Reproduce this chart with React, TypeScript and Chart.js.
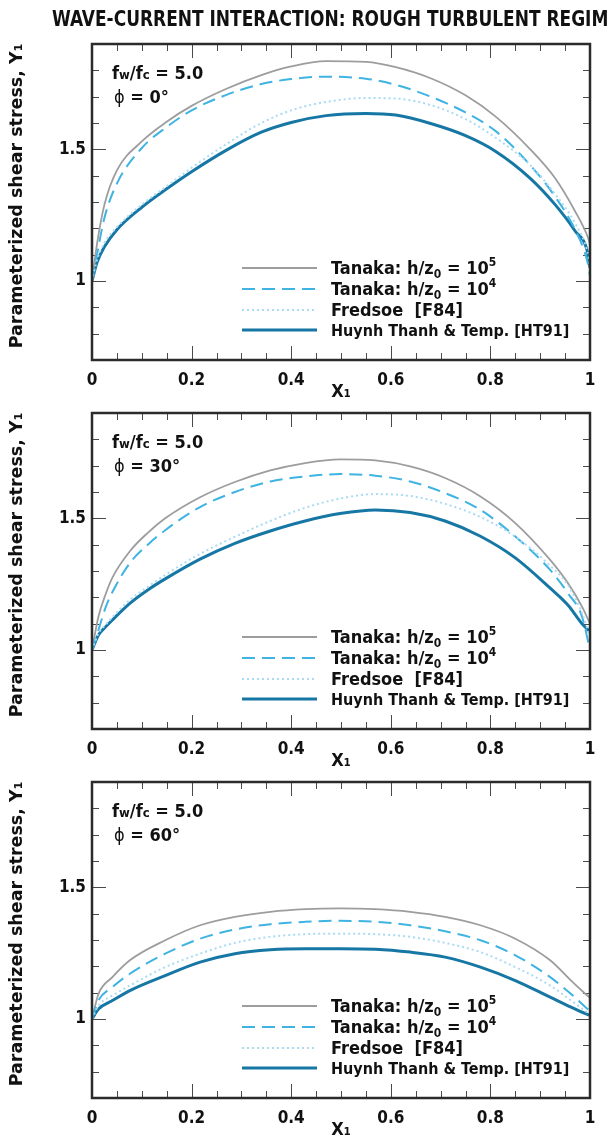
import React, { useEffect, useRef } from 'react';
import { Chart, registerables } from 'chart.js';

Chart.register(...registerables);

// ---------- text ----------
const MAIN_TITLE = 'WAVE-CURRENT INTERACTION: ROUGH TURBULENT REGIME';
const Y_TITLE = 'Parameterized shear stress, Y\u2081';
const X_TITLE = 'X\u2081';
const FW_FC = '5.0';
const PHI_DEG = [0, 30, 60];
const SERIES_LABELS = [
  'Tanaka: h/z0 = 10^5',
  'Tanaka: h/z0 = 10^4',
  'Fredsoe  [F84]',
  'Huynh Thanh & Temp. [HT91]',
];

// ---------- ticks ----------
const X_TICKS = [0, 0.2, 0.4, 0.6, 0.8, 1];
const Y_TICKS = [1, 1.5];
const Y_MIN = 0.7;
const Y_MAX = 1.9;

// ---------- data: phi = 0 ----------
const p0X = [0, 0.01, 0.025, 0.05, 0.1, 0.15, 0.2, 0.27, 0.34, 0.4, 0.47, 0.55, 0.61, 0.68, 0.75, 0.81, 0.88, 0.93, 0.97, 0.995, 1];
const p0Tanaka5 = [1.0, 1.14, 1.29, 1.42, 1.53, 1.605, 1.665, 1.73, 1.782, 1.815, 1.835, 1.832, 1.812, 1.77, 1.705, 1.625, 1.5, 1.39, 1.265, 1.17, 1.14];
const p0Tanaka4 = [1.0, 1.1, 1.24, 1.37, 1.505, 1.585, 1.648, 1.707, 1.748, 1.767, 1.776, 1.768, 1.745, 1.7, 1.64, 1.57, 1.44, 1.32, 1.195, 1.072, 1.02];
const p0Fredsoe = [1.0, 1.08, 1.145, 1.205, 1.29, 1.36, 1.43, 1.52, 1.6, 1.648, 1.68, 1.695, 1.693, 1.668, 1.615, 1.545, 1.44, 1.33, 1.22, 1.11, 1.06];
const p0HT91 = [1.0, 1.07, 1.13, 1.195, 1.28, 1.35, 1.415, 1.497, 1.565, 1.602, 1.628, 1.636, 1.63, 1.598, 1.552, 1.493, 1.39, 1.29, 1.19, 1.11, 1.05];

// ---------- data: phi = 30 ----------
const p30X = [0, 0.013, 0.027, 0.041, 0.076, 0.112, 0.147, 0.217, 0.287, 0.358, 0.428, 0.498, 0.569, 0.639, 0.709, 0.78, 0.85, 0.92, 0.956, 0.984, 1];
const p30Tanaka5 = [1.0, 1.127, 1.21, 1.275, 1.375, 1.445, 1.5, 1.58, 1.638, 1.682, 1.71, 1.724, 1.72, 1.697, 1.653, 1.583, 1.482, 1.342, 1.253, 1.165, 1.1];
const p30Tanaka4 = [1.0, 1.076, 1.16, 1.22, 1.33, 1.4, 1.455, 1.543, 1.6, 1.64, 1.659, 1.668, 1.662, 1.64, 1.596, 1.532, 1.431, 1.304, 1.215, 1.127, 1.0];
const p30Fredsoe = [1.0, 1.063, 1.095, 1.125, 1.19, 1.24, 1.285, 1.365, 1.43, 1.49, 1.54, 1.575, 1.592, 1.585, 1.555, 1.505, 1.43, 1.32, 1.245, 1.14, 1.05];
const p30HT91 = [1.0, 1.057, 1.087, 1.114, 1.177, 1.228, 1.27, 1.345, 1.405, 1.452, 1.49, 1.518, 1.532, 1.522, 1.49, 1.432, 1.35, 1.235, 1.17, 1.1, 1.07];

// ---------- data: phi = 60 ----------
const p60X = [0, 0.013, 0.041, 0.076, 0.147, 0.217, 0.287, 0.358, 0.428, 0.498, 0.569, 0.639, 0.709, 0.78, 0.85, 0.92, 0.962, 0.991, 1];
const p60Tanaka5 = [1.0, 1.095, 1.159, 1.223, 1.299, 1.356, 1.388, 1.407, 1.417, 1.42, 1.417, 1.407, 1.388, 1.356, 1.305, 1.223, 1.146, 1.095, 1.08];
const p60Tanaka4 = [1.0, 1.07, 1.121, 1.172, 1.248, 1.305, 1.34, 1.36, 1.369, 1.373, 1.369, 1.356, 1.333, 1.299, 1.242, 1.159, 1.095, 1.045, 1.03];
const p60Fredsoe = [1.0, 1.051, 1.089, 1.127, 1.197, 1.248, 1.289, 1.312, 1.322, 1.324, 1.322, 1.312, 1.289, 1.254, 1.197, 1.127, 1.07, 1.03, 1.019];
const p60HT91 = [1.0, 1.038, 1.07, 1.108, 1.165, 1.216, 1.248, 1.263, 1.267, 1.267, 1.265, 1.254, 1.235, 1.197, 1.146, 1.083, 1.045, 1.02, 1.013];

const PANELS = [
  { phi: PHI_DEG[0], x: p0X, series: [p0Tanaka5, p0Tanaka4, p0Fredsoe, p0HT91] },
  { phi: PHI_DEG[1], x: p30X, series: [p30Tanaka5, p30Tanaka4, p30Fredsoe, p30HT91] },
  { phi: PHI_DEG[2], x: p60X, series: [p60Tanaka5, p60Tanaka4, p60Fredsoe, p60HT91] },
];

// ---------- styles ----------
const STYLES = [
  { color: '#9d9d9f', width: 1.8, dash: [] as number[], order: 2 },
  { color: '#3fb3e2', width: 2, dash: [13, 7], order: 1 },
  { color: '#a9dbf3', width: 2, dash: [2, 3], order: 0 },
  { color: '#1677a5', width: 3, dash: [] as number[], order: 3 },
];

const FF = '"DejaVu Sans Condensed", "DejaVu Sans", sans-serif';
const FF_WIDE = '"DejaVu Sans", sans-serif';
const font = (size: number, weight = 'bold') => `${weight} ${size}px ${FF}`;

const CANVAS_W = 609;
const CANVAS_H = 398;
const PANEL_STEP = 369;
const TITLE_WIDTH = 568;

type Seg = { t: string; size: number; dy?: number; weight?: string };

function drawRich(ctx: CanvasRenderingContext2D, segs: Seg[], x: number, y: number) {
  let cx = x;
  for (const s of segs) {
    ctx.font = font(s.size, s.weight || 'bold');
    ctx.fillText(s.t, cx, y + (s.dy || 0));
    cx += ctx.measureText(s.t).width;
  }
  return cx;
}

const LEGEND_SEGS: Seg[][] = [
  [{ t: 'Tanaka: h/z', size: 18 }, { t: '0', size: 12, dy: 4 }, { t: ' = 10', size: 18 }, { t: '5', size: 12, dy: -8 }],
  [{ t: 'Tanaka: h/z', size: 18 }, { t: '0', size: 12, dy: 4 }, { t: ' = 10', size: 18 }, { t: '4', size: 12, dy: -8 }],
  [{ t: 'Fredsoe  [F84]', size: 18 }],
  [{ t: 'Huynh Thanh & Temp. [HT91]', size: 16 }],
];
const LEGEND_ROWS = [224, 245, 266, 286];

function makeDecor(panelIndex: number, phi: number) {
  return {
    id: 'decor' + panelIndex,
    beforeDatasetsDraw(chart: any) {
      const { ctx, chartArea: a, scales } = chart;
      const x = scales.x;
      const y = scales.y;
      ctx.save();
      ctx.strokeStyle = '#4a4a4a';
      ctx.lineWidth = 1;
      ctx.beginPath();
      for (let i = 1; i < 20; i++) {
        const px = Math.round(x.getPixelForValue(i * 0.05)) + 0.5;
        const L = i % 4 === 0 ? 14 : 7;
        ctx.moveTo(px, a.top);
        ctx.lineTo(px, a.top + L);
        ctx.moveTo(px, a.bottom);
        ctx.lineTo(px, a.bottom - L);
      }
      for (let i = 1; i <= 11; i++) {
        const v = Y_MIN + i * 0.1;
        const py = Math.round(y.getPixelForValue(v)) + 0.5;
        const major = Math.abs(v - 1) < 1e-6 || Math.abs(v - 1.5) < 1e-6;
        const L = major ? 14 : 7;
        ctx.moveTo(a.left, py);
        ctx.lineTo(a.left + L, py);
        ctx.moveTo(a.right, py);
        ctx.lineTo(a.right - L, py);
      }
      ctx.stroke();
      ctx.restore();
    },
    afterDatasetsDraw(chart: any) {
      const { ctx, chartArea: a } = chart;
      ctx.save();
      // frame
      ctx.strokeStyle = '#2b2b2b';
      ctx.lineWidth = 2.5;
      ctx.strokeRect(a.left, a.top, a.right - a.left, a.bottom - a.top);

      ctx.fillStyle = '#111';
      ctx.textAlign = 'left';
      ctx.textBaseline = 'alphabetic';

      // annotation
      const ax = a.left + 20;
      drawRich(ctx, [
        { t: 'f', size: 18 }, { t: 'w', size: 13 }, { t: '/f', size: 18 }, { t: 'c', size: 13 }, { t: ' = ' + FW_FC, size: 18 },
      ], ax, a.top + 28 + 6.5);
      drawRich(ctx, [
        { t: '\u03D5', size: 18, weight: 'normal' }, { t: ' = ' + phi + '\u00B0', size: 18 },
      ], ax + 2, a.top + 52 + 6.5);

      // legend
      const lx0 = a.left + 150;
      const lx1 = a.left + 225;
      const tx = a.left + 239;
      chart.data.datasets.forEach((ds: any, i: number) => {
        const ry = a.top + LEGEND_ROWS[i];
        ctx.save();
        ctx.strokeStyle = ds.borderColor;
        ctx.lineWidth = ds.borderWidth;
        ctx.setLineDash(ds.borderDash || []);
        ctx.beginPath();
        ctx.moveTo(lx0, ry);
        ctx.lineTo(lx1, ry);
        ctx.stroke();
        ctx.restore();
        const size = LEGEND_SEGS[i][0].size;
        drawRich(ctx, LEGEND_SEGS[i], tx, ry + size * 0.36);
      });

      // axis titles
      ctx.font = font(18);
      ctx.textAlign = 'center';
      ctx.textBaseline = 'middle';
      ctx.fillText(X_TITLE, (a.left + a.right) / 2, a.bottom + 32);

      ctx.save();
      ctx.translate(17.5, (a.top + a.bottom) / 2 - 6);
      ctx.rotate(-Math.PI / 2);
      ctx.font = `bold 17.5px ${FF_WIDE}`;
      ctx.fillText(Y_TITLE, 0, 0);
      ctx.restore();

      if (panelIndex === 0) {
        ctx.save();
        ctx.font = font(20.5);
        ctx.textAlign = 'left';
        ctx.textBaseline = 'middle';
        const w = ctx.measureText(MAIN_TITLE).width;
        ctx.translate(52, 21);
        ctx.scale(TITLE_WIDTH / w, 1);
        ctx.fillText(MAIN_TITLE, 0, 0);
        ctx.restore();
      }
      ctx.restore();
    },
  };
}

function Panel({ index }: { index: number }) {
  const ref = useRef<HTMLCanvasElement | null>(null);
  useEffect(() => {
    const canvas = ref.current;
    if (!canvas) return;
    const p = PANELS[index];
    const chart = new Chart(canvas, {
      type: 'line',
      data: {
        datasets: p.series.map((ys, si) => ({
          label: SERIES_LABELS[si],
          data: p.x.map((xv, k) => ({ x: xv, y: ys[k] })),
          borderColor: STYLES[si].color,
          backgroundColor: STYLES[si].color,
          borderWidth: STYLES[si].width,
          borderDash: STYLES[si].dash,
          pointRadius: 0,
          fill: false,
          cubicInterpolationMode: 'monotone' as const,
          order: STYLES[si].order,
        })),
      },
      options: {
        responsive: false,
        animation: false,
        devicePixelRatio: 1,
        layout: { padding: { top: 44, right: 19, left: 0, bottom: 0 } },
        plugins: { legend: { display: false }, tooltip: { enabled: false }, title: { display: false } },
        scales: {
          x: {
            type: 'linear',
            min: 0,
            max: 1,
            grid: { display: false, drawTicks: false },
            border: { display: false },
            afterBuildTicks: (s: any) => { s.ticks = X_TICKS.map((v) => ({ value: v })); },
            afterFit: (s: any) => { s.height = CANVAS_H - 360; },
            ticks: {
              padding: 10,
              color: '#111',
              font: { family: FF, size: 17, weight: 'bold' },
              maxRotation: 0,
              autoSkip: false,
              callback: (v: any) => String(v),
            },
          },
          y: {
            type: 'linear',
            min: Y_MIN,
            max: Y_MAX,
            grid: { display: false, drawTicks: false },
            border: { display: false },
            afterBuildTicks: (s: any) => { s.ticks = Y_TICKS.map((v) => ({ value: v })); },
            afterFit: (s: any) => { s.width = 92; },
            ticks: {
              padding: 6,
              color: '#111',
              font: { family: FF, size: 17, weight: 'bold' },
              callback: (v: any) => String(v),
            },
          },
        },
      },
      plugins: [makeDecor(index, p.phi)],
    } as any);
    return () => chart.destroy();
  }, [index]);
  return (
    <canvas
      ref={ref}
      width={CANVAS_W}
      height={CANVAS_H}
      style={{ position: 'absolute', left: 0, top: index * PANEL_STEP, width: CANVAS_W, height: CANVAS_H, display: 'block' }}
    />
  );
}

export default function App() {
  return (
    <div style={{ position: 'absolute', left: 0, top: 0, width: 609, height: 1136, overflow: 'hidden', background: '#fff' }}>
      <Panel index={0} />
      <Panel index={1} />
      <Panel index={2} />
    </div>
  );
}
